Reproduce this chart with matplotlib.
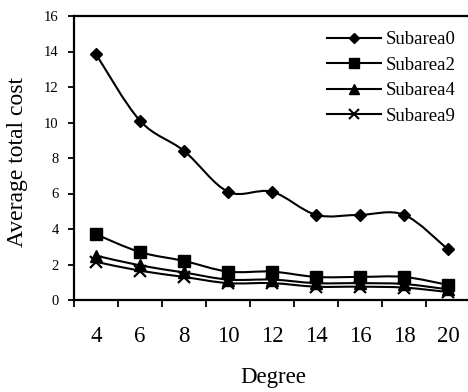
import matplotlib
matplotlib.use("Agg")
import matplotlib.pyplot as plt
from matplotlib.path import Path
from matplotlib.patches import PathPatch
from matplotlib.lines import Line2D
import numpy as np

# Average total cost by node degree for each subarea
degrees = [4, 6, 8, 10, 12, 14, 16, 18, 20]
series_names = ["Subarea0", "Subarea2", "Subarea4", "Subarea9"]
subarea0 = [13.85, 10.1, 8.4, 6.1, 6.1, 4.8, 4.8, 4.8, 2.85]
subarea2 = [3.7, 2.7, 2.2, 1.6, 1.6, 1.3, 1.3, 1.3, 0.85]
subarea4 = [2.5, 1.95, 1.55, 1.15, 1.15, 0.95, 0.95, 0.9, 0.6]
subarea9 = [2.15, 1.65, 1.3, 0.95, 0.95, 0.75, 0.75, 0.7, 0.45]
y_ticks = [0, 2, 4, 6, 8, 10, 12, 14, 16]

series = [subarea0, subarea2, subarea4, subarea9]
markers = ["D", "s", "^", "x"]
marker_sizes = [6.5, 9.0, 9.0, 8.5]

plt.rcParams["font.family"] = ["Liberation Serif", "DejaVu Serif"]

W, H = 468, 392
fig = plt.figure(figsize=(W / 100, H / 100), dpi=100)
ax = fig.add_axes([74 / W, 1 - 300 / H, 396 / W, 284 / H])


def smooth_path(xs, ys):
    """Catmull-Rom style cubic Bezier path through the data points."""
    pts = np.column_stack([xs, ys]).astype(float)
    n = len(pts)
    verts = [pts[0]]
    codes = [Path.MOVETO]
    for i in range(n - 1):
        p0 = pts[max(i - 1, 0)]
        p1 = pts[i]
        p2 = pts[i + 1]
        p3 = pts[min(i + 2, n - 1)]
        c1 = p1 + (p2 - p0) / 6.0
        c2 = p2 - (p3 - p1) / 6.0
        verts += [c1, c2, p2]
        codes += [Path.CURVE4] * 3
    return Path(verts, codes)


xpos = np.arange(len(degrees))
handles = []
for name, vals, m, ms in zip(series_names, series, markers, marker_sizes):
    ax.add_patch(PathPatch(smooth_path(xpos, vals), fill=False,
                           edgecolor="black", linewidth=1.5, zorder=2))
    ax.plot(xpos, vals, linestyle="none", marker=m, markersize=ms,
            color="black", markeredgewidth=1.6 if m == "x" else 1.0,
            zorder=3, clip_on=False)
    handles.append(Line2D([], [], color="black", linewidth=1.5, marker=m,
                          markersize=ms * 0.8,
                          markeredgewidth=1.5 if m == "x" else 1.0))

ax.set_xlim(-0.5, len(degrees) - 0.5)
ax.set_ylim(0, 16)

# category boundaries carry the tick marks, centres carry the labels
ax.set_xticks(np.arange(-0.5, len(degrees), 1.0))
ax.set_xticklabels([])
ax.set_xticks(xpos, minor=True)
ax.set_xticklabels([str(d) for d in degrees], minor=True, fontsize=16.5)
ax.tick_params(axis="x", which="major", direction="out", length=5, width=1.3)
ax.tick_params(axis="x", which="minor", length=0, pad=19)

ax.set_yticks(y_ticks)
ax.set_yticklabels([str(v) for v in y_ticks], fontsize=10.5)
ax.tick_params(axis="y", direction="out", length=4, width=1.3, pad=7)

for side in ("left", "bottom", "top"):
    ax.spines[side].set_linewidth(1.6)
ax.spines["right"].set_visible(False)

fig.text(273 / W, 1 - 378 / H, "Degree", ha="center", va="center", fontsize=16.5)
fig.text(17.5 / W, 1 - 162 / H, "Average total cost", ha="center", va="center",
         rotation=90, fontsize=17)

fig.legend(handles=handles, labels=series_names, loc="upper left",
           bbox_to_anchor=(327 / W, 1 - 31 / H), frameon=False,
           fontsize=13.5, handlelength=2.9, handletextpad=0.22,
           labelspacing=0.45, borderpad=0, borderaxespad=0)

fig.savefig("out.png", dpi=100)
